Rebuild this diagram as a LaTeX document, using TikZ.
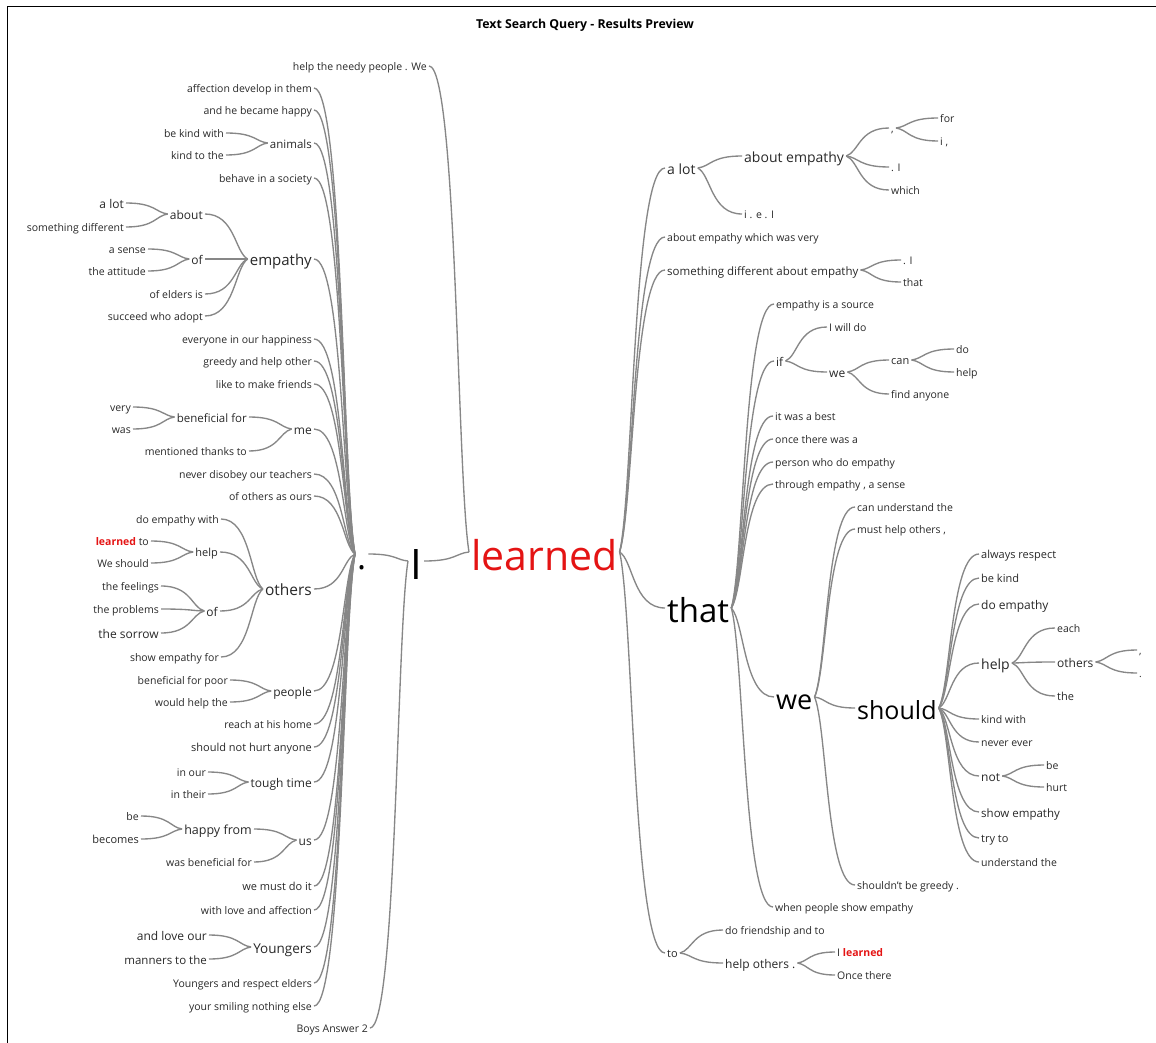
\documentclass[tikz,border=0pt]{standalone}
\usepackage{fontspec}
\setmainfont{Open Sans}
\usetikzlibrary{calc}
\definecolor{linegray}{RGB}{135,135,135}
\definecolor{hitred}{RGB}{228,20,20}
\definecolor{ink}{RGB}{40,40,40}
\tikzset{
  word/.style={inner sep=2pt, text=ink, font=\fontsize{#1}{#1}\selectfont,
    execute at begin node={\rule[-0.3em]{0pt}{1.5em}}},
  pre/.style={word=#1, anchor=east},
  post/.style={word=#1, anchor=west},
  twig/.style={draw=linegray, line width=1.35pt,
    to path={let \p1=(\tikztostart), \p2=(\tikztotarget) in
      .. controls (\x1*0.7+\x2*0.3, \y1*0.85+\y2*0.15) and (\x1*0.7+\x2*0.3, \y2) .. (\tikztotarget)}}
}
\begin{document}
\begin{tikzpicture}[x=1pt, y=-1pt]
\useasboundingbox (0,0) rectangle (1156,1043);
\draw[line width=0.8pt] (7,1043) -- (7,6) -- (1156,6);
\node[font=\fontsize{12.3}{14}\selectfont\bfseries] (title) at (585,25) {Text Search Query - Results Preview};

% centre of the tree
\node[post=41, text=hitred] (learned) at (469,552) {learned};
\node[post=42, text=black] (iword) at (408,561) {I};
\node[post=34, text=black] (dot) at (355,554) {.};
\node[pre=10.5] (needy) at (429,66) {help the needy people . We};
\node[pre=10.5] (boys) at (370,1028) {Boys Answer 2};

% words before the full stop
\node[pre=10.5] (affection) at (314,88) {affection develop in them};
\node[pre=10.5] (becamehappy) at (314,110) {and he became happy};
\node[pre=11.5] (animals) at (314,143) {animals};
\node[pre=10.5] (kindwithL) at (226,133) {be kind with};
\node[pre=10.5] (kindtothe) at (226,155) {kind to the};
\node[pre=10.5] (behave) at (314,178) {behave in a society};
\node[pre=15] (empathy) at (314,259) {empathy};
\node[pre=12] (about) at (205,214) {about};
\node[pre=12] (alotL) at (126,203) {a lot};
\node[pre=10.5] (somediff) at (126,227) {something different};
\node[pre=12] (ofA) at (205,259) {of};
\node[pre=10.5] (asense) at (148,249) {a sense};
\node[pre=10.5] (attitude) at (148,271) {the attitude};
\node[pre=10.5] (elders) at (205,294) {of elders is};
\node[pre=10.5] (succeed) at (205,316) {succeed who adopt};
\node[pre=10.5] (everyone) at (314,339) {everyone in our happiness};
\node[pre=10.5] (greedyL) at (314,361) {greedy and help other};
\node[pre=10.5] (friends) at (314,384) {like to make friends};
\node[pre=12] (me) at (314,429) {me};
\node[pre=11.5] (benefit) at (249,417) {beneficial for};
\node[pre=10.5] (very) at (133,407) {very};
\node[pre=10.5] (was) at (133,429) {was};
\node[pre=10.5] (thanks) at (249,451) {mentioned thanks to};
\node[pre=10.5] (teachers) at (314,474) {never disobey our teachers};
\node[pre=10.5] (ours) at (314,496) {of others as ours};
\node[pre=15.5] (others) at (314,589) {others};
\node[pre=10.5] (dowith) at (221,519) {do empathy with};
\node[pre=11] (helpL) at (220,552) {help};
\node[pre=10.5] (learnedto) at (151,541) {\textcolor{hitred}{\bfseries learned} to};
\node[pre=10.5] (weshould) at (151,563) {We should};
\node[pre=12] (ofB) at (220,611) {of};
\node[pre=10.5] (feelings) at (161,586) {the feelings};
\node[pre=10.5] (problems) at (161,609) {the problems};
\node[pre=12] (sorrow) at (161,633) {the sorrow};
\node[pre=10.5] (showfor) at (221,657) {show empathy for};
\node[pre=12] (people) at (314,691) {people};
\node[pre=10.5] (poor) at (230,680) {beneficial for poor};
\node[pre=10.5] (wouldhelp) at (230,702) {would help the};
\node[pre=10.5] (home) at (314,724) {reach at his home};
\node[pre=11] (hurtanyone) at (314,747) {should not hurt anyone};
\node[pre=12] (tough) at (314,782) {tough time};
\node[pre=10.5] (inour) at (208,772) {in our};
\node[pre=10.5] (intheir) at (208,794) {in their};
\node[pre=12] (us) at (314,840) {us};
\node[pre=12.5] (happyfrom) at (254,829) {happy from};
\node[pre=10.5] (beL) at (141,816) {be};
\node[pre=11] (becomes) at (141,839) {becomes};
\node[pre=10.5] (wasbenefit) at (254,862) {was beneficial for};
\node[pre=11] (mustdo) at (314,886) {we must do it};
\node[pre=10.5] (withlove) at (314,910) {with love and affection};
\node[pre=13.5] (youngers) at (314,947) {Youngers};
\node[pre=12] (loveour) at (209,935) {and love our};
\node[pre=11.5] (manners) at (209,959) {manners to the};
\node[pre=10.5] (respectelders) at (314,983) {Youngers and respect elders};
\node[pre=10.5] (smiling) at (314,1006) {your smiling nothing else};

% words after learned
\node[post=14] (alot) at (665,168) {a lot};
\node[post=14] (aboutemp) at (742,156) {about empathy};
\node[post=10.5] (iel) at (742,214) {i . e . I};
\node[post=10.5] (comma) at (889,128) {,};
\node[post=10.5] (stopI) at (889,167) {. I};
\node[post=10.5] (which) at (889,190) {which};
\node[post=10.5] (for) at (938,118) {for};
\node[post=10.5] (icomma) at (938,141) {i ,};
\node[post=10.5] (wasvery) at (665,237) {about empathy which was very};
\node[post=11.5] (diffabout) at (665,270) {something different about empathy};
\node[post=10.5] (stopIb) at (901,260) {. I};
\node[post=10.5] (thatS) at (901,282) {that};
\node[post=33, text=black] (that) at (665,608) {that};
\node[post=10.5] (source) at (774,304) {empathy is a source};
\node[post=12] (if) at (774,361) {if};
\node[post=10.5] (willdo) at (827,327) {I will do};
\node[post=12] (weS) at (827,372) {we};
\node[post=11] (can) at (889,360) {can};
\node[post=10.5] (doS) at (954,349) {do};
\node[post=10.5] (helpS) at (954,372) {help};
\node[post=10.5] (anyone) at (889,394) {find anyone};
\node[post=10.5] (best) at (773,416) {it was a best};
\node[post=10.5] (once) at (773,439) {once there was a};
\node[post=10.5] (person) at (773,462) {person who do empathy};
\node[post=10.5] (through) at (773,484) {through empathy , a sense};
\node[post=27, text=black] (we) at (774,697) {we};
\node[post=10.5] (canunderstand) at (855,507) {can understand the};
\node[post=10.5] (musthelp) at (855,529) {must help others ,};
\node[post=25, text=black] (should) at (855,708) {should};
\node[post=11] (respect) at (979,554) {always respect};
\node[post=11] (bekind) at (979,578) {be kind};
\node[post=12] (doemp) at (979,604) {do empathy};
\node[post=14] (helpR) at (979,663) {help};
\node[post=10.5] (each) at (1055,628) {each};
\node[post=12] (othersR) at (1055,662) {others};
\node[post=11] (the) at (1055,696) {the};
\node[post=10] (tickA) at (1137,650) {,};
\node[post=10] (tickB) at (1137,673) {.};
\node[post=10.5] (kindwith) at (979,719) {kind with};
\node[post=10.5] (neverever) at (979,742) {never ever};
\node[post=12] (not) at (979,776) {not};
\node[post=10.5] (beR) at (1044,765) {be};
\node[post=10.5] (hurt) at (1044,787) {hurt};
\node[post=11.5] (showemp) at (979,812) {show empathy};
\node[post=11] (tryto) at (979,838) {try to};
\node[post=10.5] (understandthe) at (979,862) {understand the};
\node[post=10.5] (notgreedy) at (855,885) {shouldn't be greedy .};
\node[post=10.5] (whenpeople) at (773,907) {when people show empathy};
\node[post=11] (to) at (665,953) {to};
\node[post=10.5] (friendship) at (723,930) {do friendship and to};
\node[post=12] (helpothers) at (723,963) {help others .};
\node[post=10.5] (ilearned) at (835,952) {I \textcolor{hitred}{\bfseries learned}};
\node[post=10.5] (oncethere) at (835,975) {Once there};

% left branches
\draw[twig] (learned.west) to (needy.east);
\draw[twig] (learned.west) to (iword.east);
\draw[twig] (iword.west) to (dot.east);
\draw[twig] (iword.west) to (boys.east);
\draw[twig] (dot.west) to (affection.east);
\draw[twig] (dot.west) to (becamehappy.east);
\draw[twig] (dot.west) to (animals.east);
\draw[twig] (dot.west) to (behave.east);
\draw[twig] (dot.west) to (empathy.east);
\draw[twig] (dot.west) to (everyone.east);
\draw[twig] (dot.west) to (greedyL.east);
\draw[twig] (dot.west) to (friends.east);
\draw[twig] (dot.west) to (me.east);
\draw[twig] (dot.west) to (teachers.east);
\draw[twig] (dot.west) to (ours.east);
\draw[twig] (dot.west) to (others.east);
\draw[twig] (dot.west) to (people.east);
\draw[twig] (dot.west) to (home.east);
\draw[twig] (dot.west) to (hurtanyone.east);
\draw[twig] (dot.west) to (tough.east);
\draw[twig] (dot.west) to (us.east);
\draw[twig] (dot.west) to (mustdo.east);
\draw[twig] (dot.west) to (withlove.east);
\draw[twig] (dot.west) to (youngers.east);
\draw[twig] (dot.west) to (respectelders.east);
\draw[twig] (dot.west) to (smiling.east);
\draw[twig] (animals.west) to (kindwithL.east);
\draw[twig] (animals.west) to (kindtothe.east);
\draw[twig] (empathy.west) to (about.east);
\draw[twig] (empathy.west) to (ofA.east);
\draw[twig] (empathy.west) to (elders.east);
\draw[twig] (empathy.west) to (succeed.east);
\draw[twig] (about.west) to (alotL.east);
\draw[twig] (about.west) to (somediff.east);
\draw[twig] (ofA.west) to (asense.east);
\draw[twig] (ofA.west) to (attitude.east);
\draw[twig] (me.west) to (benefit.east);
\draw[twig] (me.west) to (thanks.east);
\draw[twig] (benefit.west) to (very.east);
\draw[twig] (benefit.west) to (was.east);
\draw[twig] (others.west) to (dowith.east);
\draw[twig] (others.west) to (helpL.east);
\draw[twig] (others.west) to (ofB.east);
\draw[twig] (others.west) to (showfor.east);
\draw[twig] (helpL.west) to (learnedto.east);
\draw[twig] (helpL.west) to (weshould.east);
\draw[twig] (ofB.west) to (feelings.east);
\draw[twig] (ofB.west) to (problems.east);
\draw[twig] (ofB.west) to (sorrow.east);
\draw[twig] (people.west) to (poor.east);
\draw[twig] (people.west) to (wouldhelp.east);
\draw[twig] (tough.west) to (inour.east);
\draw[twig] (tough.west) to (intheir.east);
\draw[twig] (us.west) to (happyfrom.east);
\draw[twig] (us.west) to (wasbenefit.east);
\draw[twig] (happyfrom.west) to (beL.east);
\draw[twig] (happyfrom.west) to (becomes.east);
\draw[twig] (youngers.west) to (loveour.east);
\draw[twig] (youngers.west) to (manners.east);

% right branches
\draw[twig] (learned.east) to (alot.west);
\draw[twig] (learned.east) to (wasvery.west);
\draw[twig] (learned.east) to (diffabout.west);
\draw[twig] (learned.east) to (that.west);
\draw[twig] (learned.east) to (to.west);
\draw[twig] (alot.east) to (aboutemp.west);
\draw[twig] (alot.east) to (iel.west);
\draw[twig] (aboutemp.east) to (comma.west);
\draw[twig] (aboutemp.east) to (stopI.west);
\draw[twig] (aboutemp.east) to (which.west);
\draw[twig] (comma.east) to (for.west);
\draw[twig] (comma.east) to (icomma.west);
\draw[twig] (diffabout.east) to (stopIb.west);
\draw[twig] (diffabout.east) to (thatS.west);
\draw[twig] (that.east) to (source.west);
\draw[twig] (that.east) to (if.west);
\draw[twig] (that.east) to (best.west);
\draw[twig] (that.east) to (once.west);
\draw[twig] (that.east) to (person.west);
\draw[twig] (that.east) to (through.west);
\draw[twig] (that.east) to (we.west);
\draw[twig] (that.east) to (whenpeople.west);
\draw[twig] (if.east) to (willdo.west);
\draw[twig] (if.east) to (weS.west);
\draw[twig] (weS.east) to (can.west);
\draw[twig] (weS.east) to (anyone.west);
\draw[twig] (can.east) to (doS.west);
\draw[twig] (can.east) to (helpS.west);
\draw[twig] (we.east) to (canunderstand.west);
\draw[twig] (we.east) to (musthelp.west);
\draw[twig] (we.east) to (should.west);
\draw[twig] (we.east) to (notgreedy.west);
\draw[twig] (should.east) to (respect.west);
\draw[twig] (should.east) to (bekind.west);
\draw[twig] (should.east) to (doemp.west);
\draw[twig] (should.east) to (helpR.west);
\draw[twig] (should.east) to (kindwith.west);
\draw[twig] (should.east) to (neverever.west);
\draw[twig] (should.east) to (not.west);
\draw[twig] (should.east) to (showemp.west);
\draw[twig] (should.east) to (tryto.west);
\draw[twig] (should.east) to (understandthe.west);
\draw[twig] (helpR.east) to (each.west);
\draw[twig] (helpR.east) to (othersR.west);
\draw[twig] (helpR.east) to (the.west);
\draw[twig] (othersR.east) to (tickA.west);
\draw[twig] (othersR.east) to (tickB.west);
\draw[twig] (not.east) to (beR.west);
\draw[twig] (not.east) to (hurt.west);
\draw[twig] (to.east) to (friendship.west);
\draw[twig] (to.east) to (helpothers.west);
\draw[twig] (helpothers.east) to (ilearned.west);
\draw[twig] (helpothers.east) to (oncethere.west);
\end{tikzpicture}
\end{document}
